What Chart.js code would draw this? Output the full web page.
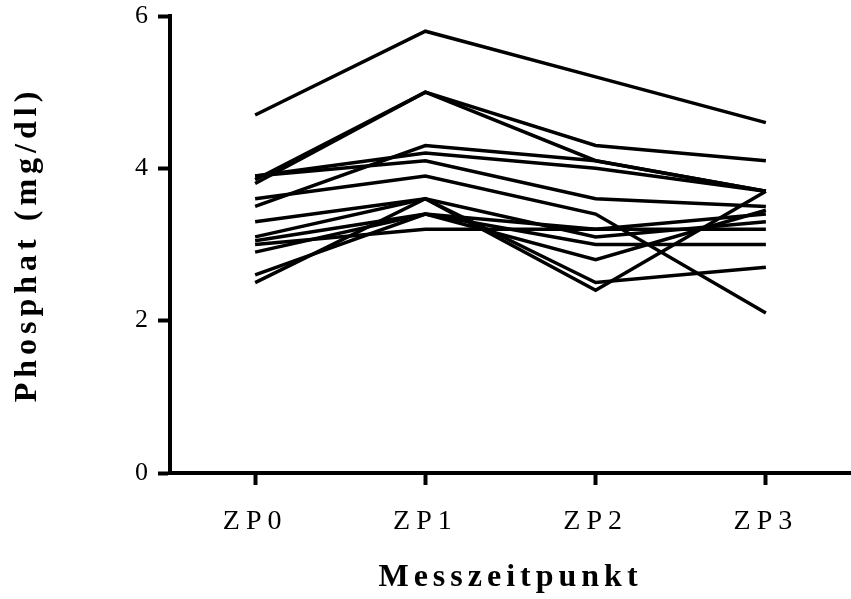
<!DOCTYPE html>
<html>
<head>
<meta charset="utf-8">
<script src="https://cdn.jsdelivr.net/npm/chart.js@4.4.1/dist/chart.umd.min.js"></script>
<style>
  html, body { margin: 0; padding: 0; background: #fff; }
  #wrap { width: 851px; height: 599px; }
</style>
</head>
<body>
<div id="wrap"><canvas id="chart"></canvas></div>
<script>
// Phosphat (mg/dl) per Patient, vier Messzeitpunkte
const timepoints = ['ZP0', 'ZP1', 'ZP2', 'ZP3'];
const yTicks = [0, 2, 4, 6];

const patient01 = [4.7, 5.8, 5.2, 4.6];
const patient02 = [3.8, 5.0, 4.3, 4.1];
const patient03 = [3.85, 5.0, 4.1, 3.7];
const patient04 = [3.9, 4.2, 4.0, 3.7];
const patient05 = [3.5, 4.3, 4.1, 3.7];
const patient06 = [3.6, 3.9, 3.4, 2.1];
const patient07 = [3.9, 4.1, 3.6, 3.5];
const patient08 = [3.3, 3.6, 3.1, 3.3];
const patient09 = [3.1, 3.6, 2.5, 2.7];
const patient10 = [3.05, 3.4, 3.0, 3.0];
const patient11 = [3.0, 3.2, 3.2, 3.4];
const patient12 = [2.9, 3.4, 2.8, 3.45];
const patient13 = [2.6, 3.4, 3.2, 3.2];
const patient14 = [2.5, 3.6, 2.4, 3.7];

const patients = [
  patient01, patient02, patient03, patient04, patient05, patient06, patient07,
  patient08, patient09, patient10, patient11, patient12, patient13, patient14
];

const TICK_SPACING = '6px';
const TITLE_SPACING = '5px';

// spaced-out serif lettering: wrap the scale's text drawing with canvas letterSpacing
const spacingPlugin = {
  id: 'spacing',
  afterLayout(chart) {
    Object.values(chart.scales).forEach(s => {
      if (s._spaced) return;
      s._spaced = true;
      const drawTitle = s.drawTitle.bind(s);
      const drawLabels = s.drawLabels.bind(s);
      s.drawTitle = (...args) => {
        s.ctx.letterSpacing = TITLE_SPACING;
        drawTitle(...args);
        s.ctx.letterSpacing = '0px';
      };
      s.drawLabels = (...args) => {
        s.ctx.letterSpacing = s.isHorizontal() ? TICK_SPACING : '0px';
        drawLabels(...args);
        s.ctx.letterSpacing = '0px';
      };
    });
  }
};

new Chart(document.getElementById('chart'), {
  type: 'line',
  data: {
    labels: timepoints,
    datasets: patients.map((values, i) => ({
      label: 'Patient ' + (i + 1),
      data: values,
      borderColor: '#000',
      borderWidth: 3.5,
      pointRadius: 0,
      tension: 0,
      fill: false
    }))
  },
  options: {
    responsive: true,
    maintainAspectRatio: false,
    animation: false,
    layout: { padding: { top: 16, right: 0, bottom: 0, left: 0 } },
    scales: {
      x: {
        offset: true,
        afterFit: (scale) => { scale.height = 126; },
        border: { display: true, color: '#000', width: 4 },
        grid: { drawOnChartArea: false, drawTicks: true, tickLength: 12, tickWidth: 4, tickColor: '#000', offset: false },
        ticks: { color: '#000', padding: 20, font: { family: 'Liberation Serif', size: 28 } },
        title: {
          display: true,
          text: 'Messzeitpunkt',
          color: '#000',
          padding: { top: 0, bottom: 2 },
          font: { family: 'Liberation Serif', size: 32, weight: 'bold' }
        }
      },
      y: {
        min: 0,
        max: 6,
        afterFit: (scale) => { scale.width = 170; },
        afterBuildTicks: (scale) => { scale.ticks = yTicks.map(v => ({ value: v })); },
        border: { display: true, color: '#000', width: 4 },
        grid: { drawOnChartArea: false, drawTicks: true, tickLength: 12, tickWidth: 4, tickColor: '#000' },
        ticks: { color: '#000', padding: 10, font: { family: 'Liberation Serif', size: 26, lineHeight: 0.4 } },
        title: {
          display: true,
          text: 'Phosphat (mg/dl)',
          color: '#000',
          padding: { top: 9, bottom: 0 },
          font: { family: 'Liberation Serif', size: 32, weight: 'bold' }
        }
      }
    },
    plugins: {
      legend: { display: false },
      tooltip: { enabled: false }
    }
  },
  plugins: [spacingPlugin]
});
</script>
</body>
</html>
